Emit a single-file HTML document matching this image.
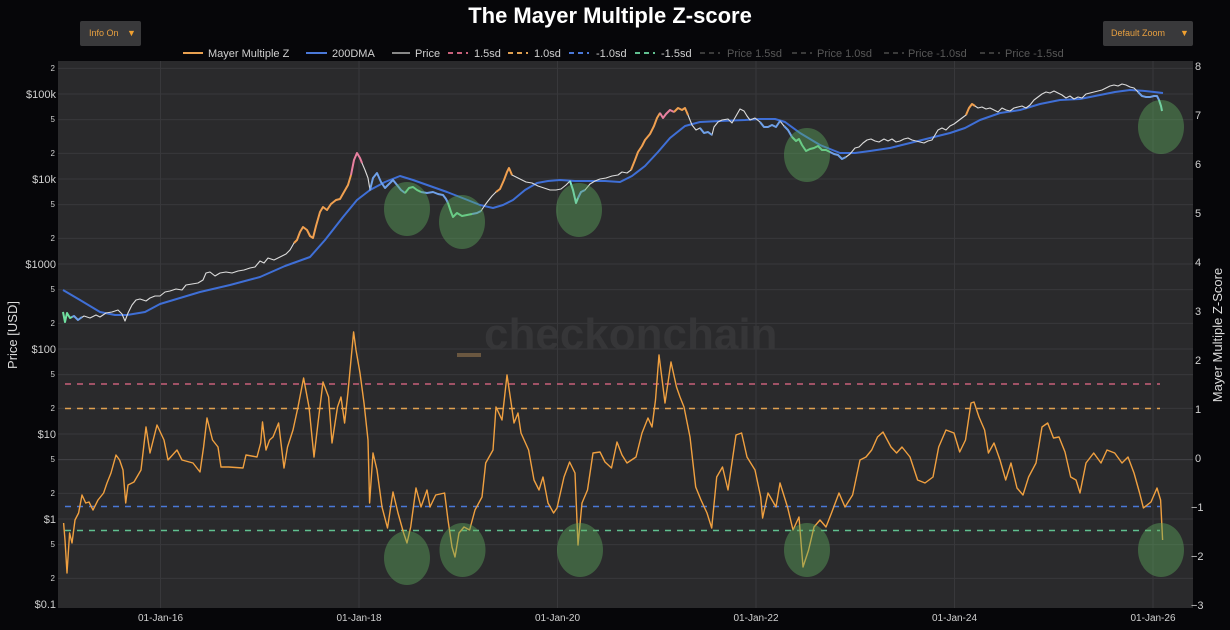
<!DOCTYPE html>
<html>
<head>
<meta charset="utf-8">
<style>
html,body{margin:0;padding:0;background:#060609;}
svg{display:block;font-family:"Liberation Sans",sans-serif;}
</style>
</head>
<body>
<svg width="1230" height="630" viewBox="0 0 1230 630" xmlns="http://www.w3.org/2000/svg">
<rect x="0" y="0" width="1230" height="630" fill="#060609"/>
<!-- title -->
<text x="610" y="23" fill="#ffffff" font-size="22" font-weight="bold" text-anchor="middle">The Mayer Multiple Z-score</text>
<!-- buttons -->
<rect x="80" y="21" width="61" height="25" rx="2" fill="#39393b"/>
<text x="89" y="36" fill="#e8a040" font-size="9">Info On</text>
<text x="127" y="36" fill="#f0a030" font-size="9">▼</text>
<rect x="1103" y="21" width="90" height="25" rx="2" fill="#39393b"/>
<text x="1111" y="36" fill="#e8a040" font-size="9">Default Zoom</text>
<text x="1180" y="36" fill="#f0a030" font-size="9">▼</text>

<!-- legend -->
<g font-size="11" fill="#d0d0d0">
<line x1="183" y1="53" x2="203" y2="53" stroke="#e8a050" stroke-width="2"/>
<text x="208" y="57">Mayer Multiple Z</text>
<line x1="306" y1="53" x2="327" y2="53" stroke="#4a78d8" stroke-width="2"/>
<text x="332" y="57">200DMA</text>
<line x1="392" y1="53" x2="410" y2="53" stroke="#888" stroke-width="2"/>
<text x="415" y="57">Price</text>
<line x1="448" y1="53" x2="468" y2="53" stroke="#c8607a" stroke-width="2" stroke-dasharray="5,4"/>
<text x="474" y="57">1.5sd</text>
<line x1="508" y1="53" x2="528" y2="53" stroke="#e0a050" stroke-width="2" stroke-dasharray="5,4"/>
<text x="534" y="57">1.0sd</text>
<line x1="569" y1="53" x2="589" y2="53" stroke="#4a78d8" stroke-width="2" stroke-dasharray="5,4"/>
<text x="596" y="57">-1.0sd</text>
<line x1="635" y1="53" x2="655" y2="53" stroke="#60c090" stroke-width="2" stroke-dasharray="5,4"/>
<text x="661" y="57">-1.5sd</text>
</g>
<g font-size="11" fill="#585858">
<line x1="700" y1="53" x2="720" y2="53" stroke="#3a3a3a" stroke-width="2" stroke-dasharray="5,4"/>
<text x="727" y="57">Price 1.5sd</text>
<line x1="792" y1="53" x2="812" y2="53" stroke="#3a3a3a" stroke-width="2" stroke-dasharray="5,4"/>
<text x="817" y="57">Price 1.0sd</text>
<line x1="884" y1="53" x2="904" y2="53" stroke="#3a3a3a" stroke-width="2" stroke-dasharray="5,4"/>
<text x="908" y="57">Price -1.0sd</text>
<line x1="980" y1="53" x2="1000" y2="53" stroke="#3a3a3a" stroke-width="2" stroke-dasharray="5,4"/>
<text x="1005" y="57">Price -1.5sd</text>
</g>

<!-- plot area -->
<rect x="58" y="61" width="1135" height="547" fill="#2a2a2c"/>

<!-- horizontal grid (log price) -->
<g stroke="#38383b" stroke-width="1">
<line x1="58" x2="1193" y1="68.4" y2="68.4"/>
<line x1="58" x2="1193" y1="94" y2="94"/>
<line x1="58" x2="1193" y1="119.6" y2="119.6"/>
<line x1="58" x2="1193" y1="153.4" y2="153.4"/>
<line x1="58" x2="1193" y1="179" y2="179"/>
<line x1="58" x2="1193" y1="204.6" y2="204.6"/>
<line x1="58" x2="1193" y1="238.4" y2="238.4"/>
<line x1="58" x2="1193" y1="264" y2="264"/>
<line x1="58" x2="1193" y1="289.6" y2="289.6"/>
<line x1="58" x2="1193" y1="323.4" y2="323.4"/>
<line x1="58" x2="1193" y1="349" y2="349"/>
<line x1="58" x2="1193" y1="374.6" y2="374.6"/>
<line x1="58" x2="1193" y1="408.4" y2="408.4"/>
<line x1="58" x2="1193" y1="434" y2="434"/>
<line x1="58" x2="1193" y1="459.6" y2="459.6" stroke="#444447"/>
<line x1="58" x2="1193" y1="493.4" y2="493.4"/>
<line x1="58" x2="1193" y1="519" y2="519"/>
<line x1="58" x2="1193" y1="544.6" y2="544.6"/>
<line x1="58" x2="1193" y1="578.4" y2="578.4"/>
</g>
<!-- vertical grid -->
<g stroke="#38383b" stroke-width="1">
<line x1="160.5" x2="160.5" y1="61" y2="608"/>
<line x1="359" x2="359" y1="61" y2="608"/>
<line x1="557.5" x2="557.5" y1="61" y2="608"/>
<line x1="756" x2="756" y1="61" y2="608"/>
<line x1="954.5" x2="954.5" y1="61" y2="608"/>
<line x1="1153" x2="1153" y1="61" y2="608"/>
</g>

<!-- watermark -->
<text x="484" y="349" fill="#363638" font-size="44" font-weight="bold">checkonchain</text>
<rect x="457" y="353" width="24" height="4" fill="#6a5740"/>

<!-- sd lines -->
<g stroke-width="1.6" stroke-dasharray="6,6" fill="none">
<line x1="65" x2="1160" y1="384" y2="384" stroke="#c8607a"/>
<line x1="65" x2="1160" y1="408.5" y2="408.5" stroke="#e0a050"/>
<line x1="65" x2="1160" y1="506.5" y2="506.5" stroke="#4a78d8"/>
<line x1="65" x2="1160" y1="530.5" y2="530.5" stroke="#60c090"/>
</g>

<!-- 200DMA -->
<polyline fill="none" stroke="#3f6fd6" stroke-width="2" stroke-linejoin="round" points="63,290 80,300 100,312 115,315 127,315 145,312 160,304 180,298 200,292 230,285 260,277 285,266 310,257 325,240 343,217 357,200 370,190 385,182 400,176 413,180 430,186 447,192 465,199 480,205 493,208 503,205 513,200 525,190 537,183 548,181 560,180 575,181 590,181 605,181 620,182 632,176 645,166 658,152 670,138 685,126 700,122 720,121 745,120 760,119 775,119 785,122 800,133 820,145 840,153 855,153 870,151 890,148 910,143 930,138 950,133 965,128 980,120 1000,113 1020,110 1040,104 1060,100 1080,99 1100,95 1115,92 1130,90 1145,91 1163,93"/>

<!-- Price -->
<polyline fill="none" stroke="#dcdcdc" stroke-width="1.1" stroke-linejoin="round" points="63,312 65,322 67,313 70,318 74,316 78,320 84,316 90,318 96,315 100,317 106,313 112,312 118,310 122,314 125,321 128,313 132,305 136,300 140,299 146,301 150,298 155,296 160,296 165,292 170,291 176,289 182,290 186,285 192,284 198,283 203,280 206,273 210,272 215,276 220,273 226,272 232,273 238,271 244,270 250,268 255,267 260,261 264,263 268,258 274,260 280,257 286,254 290,250 294,243 297,240 300,232 303,227 307,230 310,236 313,238 316,226 320,212 323,207 327,210 331,204 336,200 340,199 344,192 348,185 351,175 354,160 357,153 360,158 362,163 365,170 368,178 370,190 373,178 377,173 381,182 385,188 389,184 393,180 397,185 401,190 405,193 409,188 413,187 417,190 421,192 427,193 433,192 438,194 443,195 446,199 448,203 451,212 453,217 457,213 462,216 467,215 472,214 477,213 481,211 485,205 488,201 492,196 496,192 500,189 504,180 507,172 509,168 512,175 516,177 520,179 526,182 532,183 538,186 544,188 550,190 556,190 561,189 566,185 570,181 573,190 576,203 578,198 581,192 585,190 590,184 595,181 600,179 606,178 612,176 618,175 622,172 627,173 631,170 635,160 638,152 642,146 645,140 650,134 654,126 657,118 660,113 663,118 666,114 670,110 674,112 678,108 682,110 685,108 688,115 692,125 696,130 700,128 704,133 708,132 712,135 714,127 718,122 722,120 728,119 732,123 736,116 740,109 744,111 747,116 750,120 755,118 760,122 764,127 768,127 772,125 776,127 780,121 784,126 788,130 792,137 796,141 799,139 802,145 806,151 810,149 814,148 818,146 822,150 826,150 830,152 834,154 838,155 842,159 846,157 850,154 855,148 859,147 863,143 867,140 871,139 875,141 879,142 884,139 888,141 892,139 896,142 900,141 904,139 908,138 912,140 916,141 920,142 924,143 928,141 932,140 935,135 938,130 942,128 946,130 950,126 954,124 958,121 962,118 966,115 969,108 972,104 975,106 978,108 982,107 986,109 990,108 994,110 998,112 1002,108 1006,110 1010,111 1014,108 1018,107 1022,106 1026,108 1030,105 1034,100 1038,97 1042,94 1046,92 1050,93 1054,91 1058,93 1062,95 1066,98 1070,96 1074,99 1078,97 1082,98 1086,94 1090,93 1094,92 1098,91 1102,90 1106,88 1110,86 1114,85 1118,86 1122,84 1126,85 1130,87 1134,88 1138,92 1142,96 1146,97 1150,97 1154,96 1157,96 1159,100 1161,106 1162,111"/>

<!-- colored price overlays -->
<g fill="none" stroke-width="2" stroke-linejoin="round">
<polyline stroke="#70e0a0" points="63,312 65,322 67,313 70,318 72,317"/>
<polyline stroke="#6fa0e8" points="72,317 74,316 78,320 82,317"/>
<polyline stroke="#f0a050" points="294,243 297,240 300,232 303,227 307,230 310,236 313,238 316,226 320,212 323,207 327,210 331,204 336,200 340,199 344,192 348,185 351,175"/>
<polyline stroke="#e880a0" points="351,175 354,160 357,153 360,158 362,163"/>
<polyline stroke="#6fa0e8" points="370,190 373,178 377,173 381,182 385,188 389,184 393,180 397,185 401,190 405,193"/>
<polyline stroke="#70e0a0" points="405,193 409,188 413,187 417,190 421,192"/>
<polyline stroke="#6fa0e8" points="421,192 427,193 433,192 438,194 443,195 446,199 448,203"/>
<polyline stroke="#70e0a0" points="448,203 451,212 453,217 457,213 462,216 467,215 472,214"/>
<polyline stroke="#6fa0e8" points="472,214 477,213 481,211"/>
<polyline stroke="#f0a050" points="496,192 500,189 504,180 507,172 509,168 512,175"/>
<polyline stroke="#80e8d0" points="570,181 573,190 576,203 578,198"/>
<polyline stroke="#6fa0e8" points="578,198 581,192 585,190"/>
<polyline stroke="#f0a050" points="631,170 635,160 638,152 642,146 645,140 650,134 654,126 657,118 660,113"/>
<polyline stroke="#e880a0" points="660,113 663,118 666,114 670,110 674,112"/>
<polyline stroke="#f0a050" points="674,112 678,108 682,110 685,108 688,115"/>
<polyline stroke="#6fa0e8" points="700,128 704,133 708,132 712,135"/>
<polyline stroke="#6fa0e8" points="760,122 764,127 768,127 772,125 776,127 780,121"/>
<polyline stroke="#6fa0e8" points="784,126 788,130 792,137"/>
<polyline stroke="#70e0a0" points="792,137 796,141 799,139 802,145 806,151 810,149 814,148 818,146 822,150 826,150 830,152"/>
<polyline stroke="#6fa0e8" points="830,152 834,154 838,155 842,159 846,157"/>
<polyline stroke="#f0a050" points="966,115 969,108 972,104 975,106"/>
<polyline stroke="#6fa0e8" points="1138,92 1142,96 1146,97 1150,97 1154,96 1157,96 1159,100"/>
<polyline stroke="#80e8d0" points="1159,100 1161,106 1162,111"/>
</g>

<!-- Mayer Multiple Z -->
<polyline fill="none" stroke="#f0a040" stroke-width="1.4" stroke-linejoin="round" points="63.6,523 65,540 67,573 69.6,533 72,543 75,520 78.6,513 82,495 85.7,503 89,502 93,510 98,500 103.6,493 107,483 111,473 116,455 119.6,460 123,470 125.7,503 128,485 134,482 141,470 146,427 150,453 157,425 164,440 168,460 177,450 182,460 193,463 200,472 203.6,447 207,418 212.5,440 218,447 221,467 228.6,467 243,468 246,455 257,457 260.7,443 262.5,422 266,450 269.6,440 273,437 278.6,423 284,468 287.5,447 293,430 298,407 303.6,378 309,407 314,457 318,423 323,382 328.6,397 332,443 337.5,407 341,397 344.6,423 348,392 353.6,332 356,350 360,373 364,403 368,440 369.6,503 373,453 377,470 382,507 387.5,528 393,492 398,513 403.6,533 407,543 410.7,527 416,488 421,507 427,490 430,507 435.7,495 444.6,493 448,520 452,547 455,557 459,533 464,527 469.6,530 475,510 482,497 485.7,463 493,450 496,407 502,420 507,375 510.7,400 514,423 518,413 521,433 528.6,450 534,480 539,490 543,477 548,503 553.6,513 557,508 564,477 569.6,462 575,473 578,545 582,503 587.5,490 593,453 600,452 605,462 611.5,468 617,442 622,455 627,463 636,457 642,433 648,418 652,427 655.5,400 659,355 665,403 671,362 676.5,387 680,397 684,407 690,437 695.7,487 701,500 707,513 711.7,528 716.7,477 722.5,467 728,490 736,435 741.6,433 747,457 755,470 760.7,497 762.6,518 768,493 776,507 780,483 787.5,507 793,530 799,517 803,567 808.6,550 814,527 820,520 826,527 831.5,513 839,493 845,507 852.6,495 860,460 866,457 871.7,450 877.5,437 883,432 891,447 896.6,453 902,447 910,457 917.6,480 925,483 933,477 938.7,447 946,430 954,433 959.7,452 965.5,440 971,403 974,402 979,417 984.6,430 988.4,453 994,443 1000,460 1005.7,480 1011,463 1017,488 1023,495 1028.6,477 1036,463 1042,427 1047.7,423 1053.5,438 1059,437 1065,452 1070.7,477 1076,480 1080,493 1086,463 1093.7,453 1101,463 1107,450 1114.7,453 1122,463 1128,457 1134,473 1139.6,493 1143.4,508 1151,502 1157,488 1160.6,500 1162.6,540"/>

<!-- highlight ellipses -->
<g fill="#5fae5f" fill-opacity="0.42">
<ellipse cx="407" cy="209" rx="23" ry="27"/>
<ellipse cx="462" cy="222" rx="23" ry="27"/>
<ellipse cx="579" cy="210" rx="23" ry="27"/>
<ellipse cx="807" cy="155" rx="23" ry="27"/>
<ellipse cx="1161" cy="127" rx="23" ry="27"/>
<ellipse cx="407" cy="558" rx="23" ry="27"/>
<ellipse cx="462.5" cy="550" rx="23" ry="27"/>
<ellipse cx="580" cy="550" rx="23" ry="27"/>
<ellipse cx="807" cy="550" rx="23" ry="27"/>
<ellipse cx="1161" cy="550" rx="23" ry="27"/>
</g>

<!-- left axis labels -->
<g fill="#d0d0d0" text-anchor="end">
<text x="55" y="71" font-size="8">2</text>
<text x="56" y="98" font-size="11">$100k</text>
<text x="55" y="122" font-size="8">5</text>
<text x="55" y="156" font-size="8">2</text>
<text x="56" y="183" font-size="11">$10k</text>
<text x="55" y="207" font-size="8">5</text>
<text x="55" y="241" font-size="8">2</text>
<text x="56" y="268" font-size="11">$1000</text>
<text x="55" y="292" font-size="8">5</text>
<text x="55" y="326" font-size="8">2</text>
<text x="56" y="353" font-size="11">$100</text>
<text x="55" y="377" font-size="8">5</text>
<text x="55" y="411" font-size="8">2</text>
<text x="56" y="438" font-size="11">$10</text>
<text x="55" y="462" font-size="8">5</text>
<text x="55" y="496" font-size="8">2</text>
<text x="56" y="523" font-size="11">$1</text>
<text x="55" y="547" font-size="8">5</text>
<text x="55" y="581" font-size="8">2</text>
<text x="56" y="608" font-size="11">$0.1</text>
</g>
<text transform="translate(17,335) rotate(-90)" fill="#dcdcdc" font-size="13" text-anchor="middle">Price [USD]</text>

<!-- right axis labels -->
<g fill="#d0d0d0" font-size="11">
<text x="1195" y="70">8</text>
<text x="1195" y="119">7</text>
<text x="1195" y="168">6</text>
<text x="1195" y="217">5</text>
<text x="1195" y="266">4</text>
<text x="1195" y="315">3</text>
<text x="1195" y="364">2</text>
<text x="1195" y="413">1</text>
<text x="1195" y="462">0</text>
<text x="1191" y="511">−1</text>
<text x="1191" y="560">−2</text>
<text x="1191" y="609">−3</text>
</g>
<text transform="translate(1222,335) rotate(-90)" fill="#dcdcdc" font-size="13" text-anchor="middle">Mayer Multiple Z-Score</text>

<!-- x axis labels -->
<g fill="#d0d0d0" font-size="10" text-anchor="middle">
<text x="160.5" y="621">01-Jan-16</text>
<text x="359" y="621">01-Jan-18</text>
<text x="557.5" y="621">01-Jan-20</text>
<text x="756" y="621">01-Jan-22</text>
<text x="954.5" y="621">01-Jan-24</text>
<text x="1153" y="621">01-Jan-26</text>
</g>
</svg>
</body>
</html>
